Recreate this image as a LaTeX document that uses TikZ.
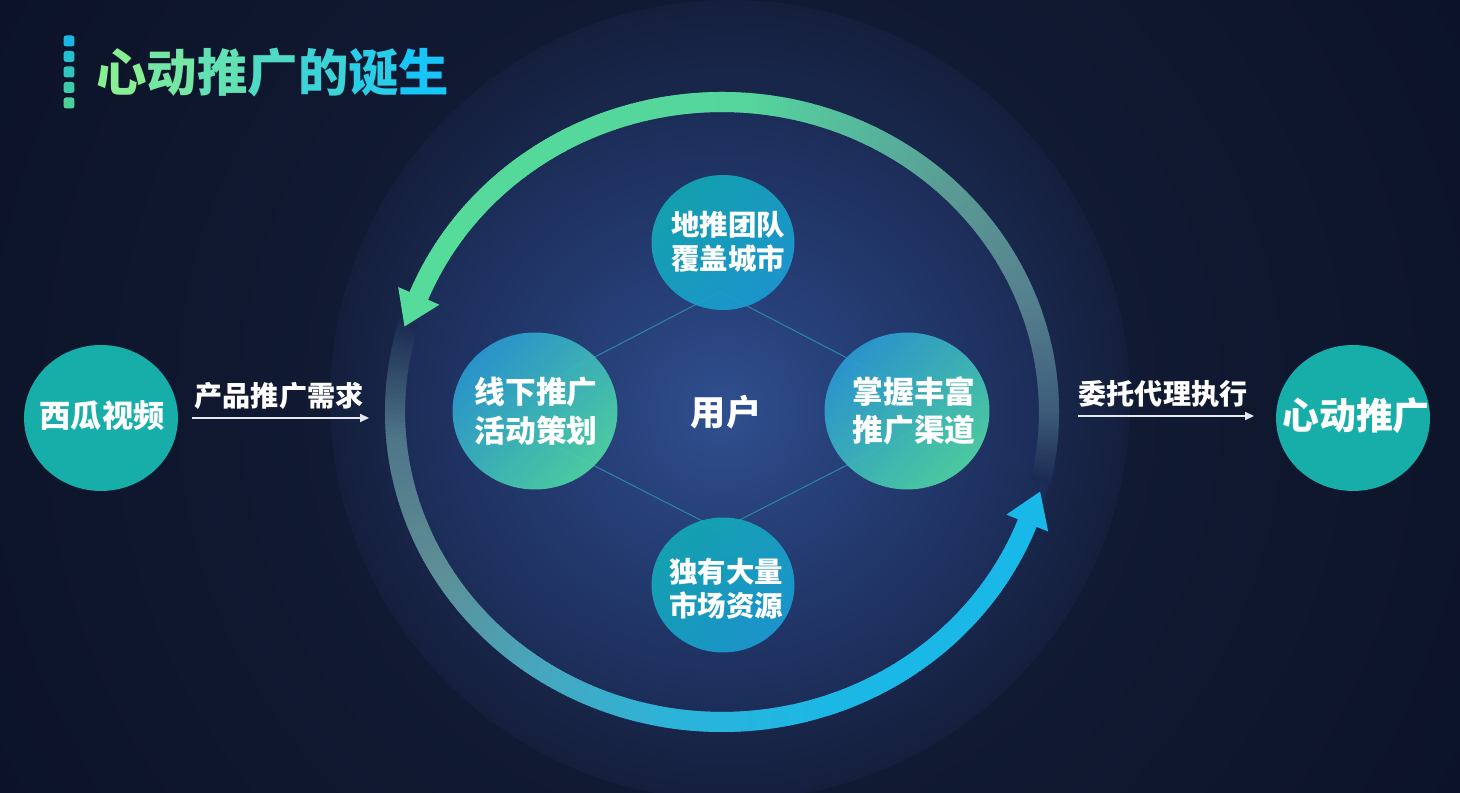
\documentclass[tikz,border=0pt]{standalone}
\usepackage{fontspec}
\setmainfont{Noto Sans CJK SC}
\usetikzlibrary{shapes.geometric,arrows.meta}
\definecolor{bgA}{HTML}{131D39}
\definecolor{bgB}{HTML}{111A33}
\definecolor{bgC}{HTML}{0B1226}
\definecolor{glowc}{HTML}{30508F}
\definecolor{glowm}{HTML}{29437E}
\definecolor{glown}{HTML}{213668}
\definecolor{glowe}{HTML}{1B2B55}
\definecolor{haloin}{HTML}{18264A}
\definecolor{haloout}{HTML}{141F3C}
\definecolor{ringbg}{HTML}{1A2950}
\definecolor{g0}{HTML}{3C5C7A}
\definecolor{g1}{HTML}{557F8E}
\definecolor{g2}{HTML}{5A9A94}
\definecolor{g3}{HTML}{56B89C}
\definecolor{g4}{HTML}{55D59C}
\definecolor{g5}{HTML}{55DC9A}
\definecolor{b0}{HTML}{4E7688}
\definecolor{b1}{HTML}{5E8E96}
\definecolor{b2}{HTML}{48A6BC}
\definecolor{b3}{HTML}{2DB3D8}
\definecolor{b4}{HTML}{1BB8E6}
\definecolor{b5}{HTML}{18B8E8}
\definecolor{tealA}{HTML}{13A9B5}
\definecolor{blueA}{HTML}{1C9CD4}
\definecolor{blueB}{HTML}{2B9BD3}
\definecolor{greenB}{HTML}{4FD6A5}
\definecolor{outerc}{HTML}{17ADA8}
\definecolor{diac}{HTML}{2C9FAE}
\definecolor{tA}{HTML}{88EE94}
\definecolor{tZ}{HTML}{16C6F8}
\definecolor{barA}{HTML}{1AB8E6}
\definecolor{barZ}{HTML}{4AD098}
\definecolor{larrc}{HTML}{E6E8F0}
\pgfdeclareradialshading{bgshade}{\pgfpoint{0bp}{0bp}}{color(0bp)=(bgA); color(11bp)=(bgB); color(25bp)=(bgC); color(50bp)=(bgC)}
\pgfdeclareradialshading{glowshade}{\pgfpoint{0bp}{0bp}}{color(0bp)=(glowc); color(7bp)=(glowm); color(17bp)=(glown); color(25bp)=(glowe); color(50bp)=(glowe)}
\pgfdeclareradialshading{haloshade}{\pgfpoint{0bp}{0bp}}{color(0bp)=(haloin); color(20.5bp)=(haloin); color(25bp)=(haloout); color(50bp)=(haloout)}
\newcommand\ringseg[4]{%
  \pgfmathtruncatemacro\nsteps{2*abs(#2-#1)}%
  \foreach \k in {1,...,\nsteps}{%
    \pgfmathsetmacro\angA{#1+(#2-#1)*(\k-1)/\nsteps}%
    \pgfmathsetmacro\angB{#1+(#2-#1)*\k/\nsteps+0.3}%
    \pgfmathtruncatemacro\mixp{100*(\k-0.5)/\nsteps}%
    \draw[ringline, color=#4!\mixp!#3] (rc) ++(\angA:327 and 310) arc[start angle=\angA, end angle=\angB, x radius=327, y radius=310];
  }%
}
\begin{document}
\begin{tikzpicture}[x=0.02cm,y=0.02cm,
  ringline/.style={line width=11.4pt, line cap=butt},
  bub/.style={ellipse, inner sep=0pt, fill opacity=0.92},
  smallbub/.style={bub, minimum width=2.86cm, minimum height=2.70cm, top color=tealA, bottom color=blueA, shading angle=45},
  bigbub/.style={bub, minimum width=3.30cm, minimum height=3.14cm, top color=blueB, bottom color=greenB, shading angle=45},
  outerbub/.style={ellipse, inner sep=0pt, minimum width=3.08cm, minimum height=2.92cm, fill=outerc},
  smalltxt/.style={text=white, align=center, inner sep=0pt, font=\bfseries\fontsize{16.2}{19.5}\selectfont},
  bigtxt/.style={text=white, align=center, inner sep=0pt, font=\bfseries\fontsize{17.5}{22}\selectfont},
  lbl/.style={text=white, font=\bfseries\fontsize{16}{18}\selectfont, inner sep=0pt},
  larr/.style={draw=larrc, line width=0.8pt, -{Triangle[length=5pt,width=4.5pt]}},
  dia/.style={draw=diac, line width=0.6pt, opacity=0.75},
  tbar/.style={rectangle, rounded corners=1.5pt, minimum size=0.22cm, inner sep=0pt}]
\useasboundingbox (0,0) rectangle (1460,793);
\coordinate (rc) at (722,381);
\coordinate (hc) at (730,393);
\begin{scope}
\clip (0,0) rectangle (1460,793);
\shade[shading=bgshade] (hc) circle (900);
\end{scope}
\shade[shading=haloshade] (hc) circle (400);
\shade[shading=glowshade] (rc) ellipse [x radius=335, y radius=318];
% diamond
\coordinate (dT) at (720,501);
\coordinate (dR) at (951,381);
\coordinate (dB) at (720,263);
\coordinate (dL) at (489,381);
\draw[dia] (dT) -- (dR) -- (dB) -- (dL) -- cycle;
% ring: green arc
\ringseg{-13}{0}{ringbg}{g0}
\ringseg{0}{20}{g0}{g1}
\ringseg{20}{45}{g1}{g2}
\ringseg{45}{65}{g2}{g3}
\ringseg{65}{85}{g3}{g4}
\ringseg{85}{158}{g4}{g5}
% ring: blue arc
\ringseg{163}{185}{ringbg}{b0}
\ringseg{185}{210}{b0}{b1}
\ringseg{210}{235}{b1}{b2}
\ringseg{235}{260}{b2}{b3}
\ringseg{260}{290}{b3}{b4}
\ringseg{290}{339}{b4}{b5}
% arrowheads
\coordinate (gT) at (404.5,466.5);
\coordinate (gB1) at (398.2,505.9);
\coordinate (gB2) at (439.4,488.3);
\fill[g5] (gT) -- (gB1) -- (gB2) -- cycle;
\coordinate (bT) at (1040.1,301.4);
\coordinate (bB1) at (1048.2,261.4);
\coordinate (bB2) at (1006.4,278.4);
\fill[b5] (bT) -- (bB1) -- (bB2) -- cycle;
% bubbles
\node[smallbub] (top) at (723,550.5) {};
\node[smalltxt] (topT) at (728,551) {地推团队\\覆盖城市};
\node[smallbub] (bot) at (723,208) {};
\node[smalltxt] (botT) at (726,204) {独有大量\\市场资源};
\node[bigbub] (left) at (535,382) {};
\node[bigtxt] (leftT) at (536,382) {线下推广\\活动策划};
\node[bigbub] (right) at (907,382) {};
\node[bigtxt] (rightT) at (914,382) {掌握丰富\\推广渠道};
\node[text=white, font=\bfseries\fontsize{20}{24}\selectfont, inner sep=0pt] (user) at (726,381) {用户};
% outer
\node[outerbub] (xigua) at (101,375) {};
\node[text=white, inner sep=0pt, font=\bfseries\fontsize{17.8}{20}\selectfont] (xiguaT) at (102,377) {西瓜视频};
\node[outerbub] (xd) at (1353,375) {};
\node[text=white, inner sep=0pt, font=\bfseries\fontsize{21}{24}\selectfont] (xdT) at (1356,377) {心动推广};
\node[lbl] (l1) at (279,397) {产品推广需求};
\node[lbl] (l2) at (1163,399) {委托代理执行};
\coordinate (a1s) at (192,375);
\coordinate (a1e) at (369,375);
\draw[larr] (a1s) -- (a1e);
\coordinate (a2s) at (1078,377);
\coordinate (a2e) at (1254,377);
\draw[larr] (a2s) -- (a2e);
% title
\node[tbar, fill=barA] (tb1) at (69,752) {};
\node[tbar, fill=barZ!25!barA] (tb2) at (69,736.5) {};
\node[tbar, fill=barZ!50!barA] (tb3) at (69,721) {};
\node[tbar, fill=barZ!75!barA] (tb4) at (69,705.5) {};
\node[tbar, fill=barZ] (tb5) at (69,690) {};
\node[anchor=west, inner sep=0pt, font=\bfseries\fontsize{28.7}{32}\selectfont] (title) at (96,720)
  {\textcolor{tA}{心}\textcolor{tZ!17!tA}{动}\textcolor{tZ!33!tA}{推}\textcolor{tZ!50!tA}{广}\textcolor{tZ!67!tA}{的}\textcolor{tZ!83!tA}{诞}\textcolor{tZ}{生}};
\end{tikzpicture}
\end{document}
